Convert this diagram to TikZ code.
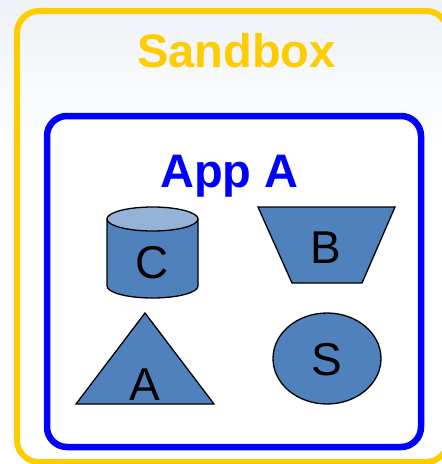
\documentclass[tikz,border=0pt]{standalone}
\usepackage{fontspec}
\setmainfont{Liberation Sans}
\definecolor{sandyellow}{HTML}{FFCC00}
\definecolor{appblue}{HTML}{0000FF}
\definecolor{partfill}{HTML}{4F81BD}
\definecolor{partlid}{HTML}{95B3D7}
\definecolor{slidetop}{HTML}{EEF1F6}

\begin{document}
\begin{tikzpicture}[x=1pt,y=-1pt,
    frame/.style={rounded corners=22pt,line width=6pt},
    part/.style={draw=black,line width=1.3pt,fill=partfill},
    title/.style={font=\bfseries\fontsize{47}{47}\selectfont,inner sep=0pt,anchor=base},
    letter/.style={font=\fontsize{46}{46}\selectfont,inner sep=0pt,anchor=base}]

     \useasboundingbox (0,0) rectangle (442,464);
     \clip (0,0) rectangle (442,464);
     \fill[white] (0,0) rectangle (442,464);
     \shade[top color=slidetop,bottom color=white] (0,0) rectangle (442,150);

     %Sandbox
     \draw[frame,draw=sandyellow] (17,11) rectangle (448,462);
     \node[title,text=sandyellow] (sandbox) at (236.5,67) {Sandbox};

     %App A
     \draw[frame,draw=appblue,fill=white,rounded corners=20pt,line width=6.5pt] (47,116) rectangle (421,447);
     \node[title,text=appblue] (appa) at (229.5,187) {App A};

     %C: cylinder
     \draw[part] (107,219) -- (107,286) arc[start angle=180,end angle=360,x radius=45.5pt,y radius=12pt] -- (198,219) -- cycle;
     \draw[part,fill=partlid] (152.5,219) ellipse[x radius=45.5pt,y radius=12pt];
     \node[letter] (c) at (152,278) {C};

     %B: trapezium
     \draw[part] (258,207) -- (395,207) -- (362,283) -- (292,283) -- cycle;
     \node[letter] (b) at (326,263) {B};

     %A: triangle
     \draw[part] (145,313) -- (214,404) -- (76,404) -- cycle;
     \node[letter] (a) at (145,400) {A};

     %S: ellipse
     \draw[part] (327,358.5) ellipse[x radius=54pt,y radius=45.5pt];
     \node[letter] (s) at (327,375) {S};

\end{tikzpicture}
\end{document}
